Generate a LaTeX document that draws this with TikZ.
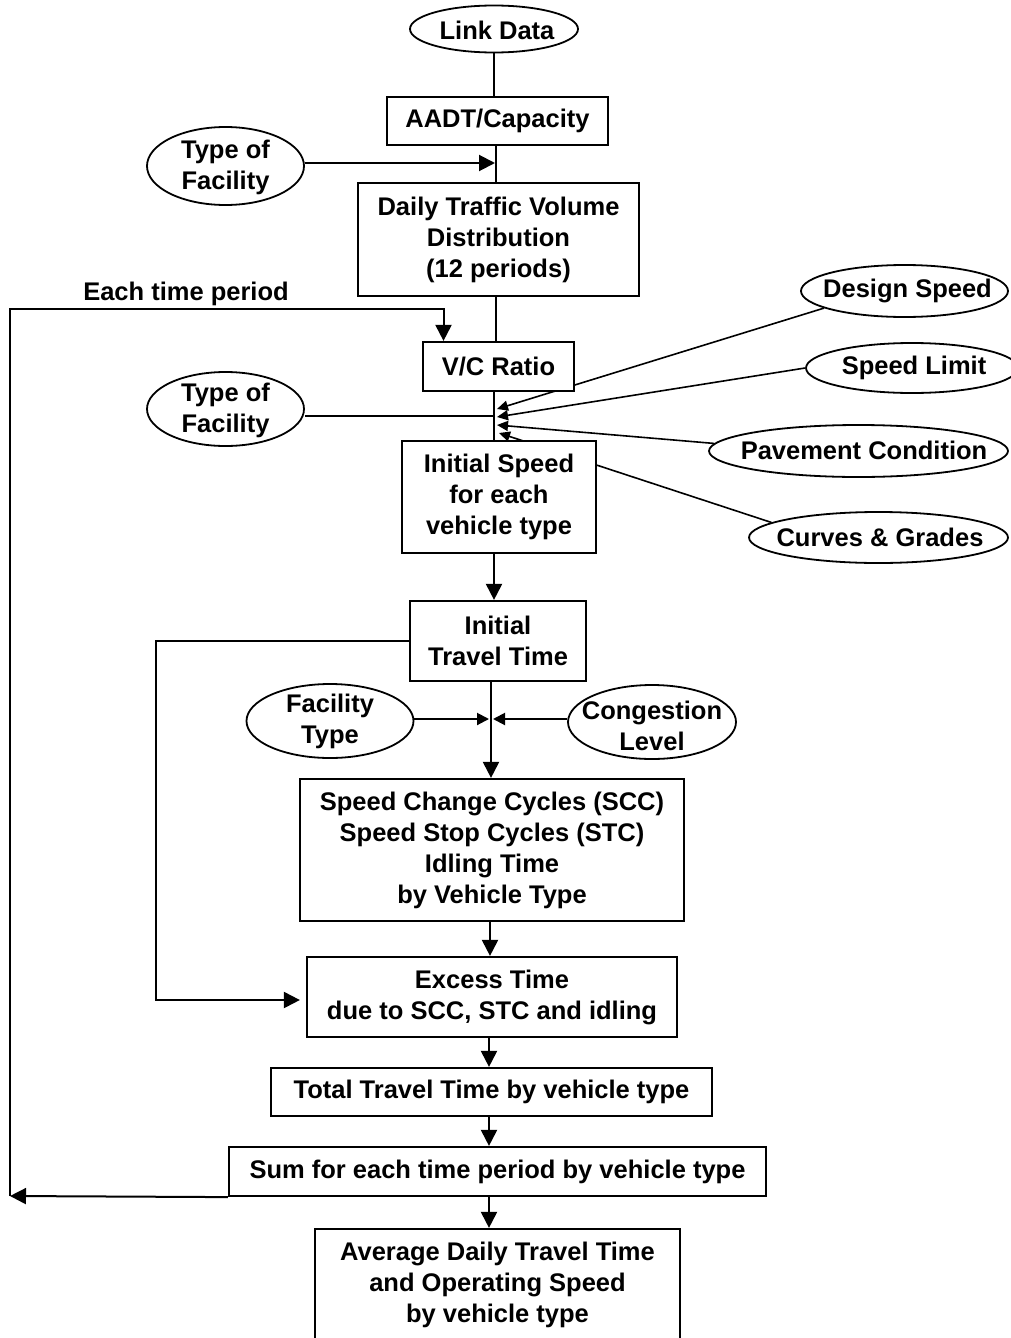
\documentclass[tikz,border=0pt]{standalone}
\usepackage{fontspec}
\setmainfont{Liberation Sans}
\usetikzlibrary{shapes.geometric,arrows.meta,calc}
\pgfdeclarelayer{bg}
\pgfsetlayers{bg,main}
\begin{document}
\begin{tikzpicture}[x=1pt,y=-1pt,
  every node/.style={font=\fontsize{25.5}{31}\selectfont\bfseries, align=center, inner sep=0pt},
  box/.style={draw, line width=2.2pt, fill=white, rectangle},
  oval/.style={draw, line width=1.8pt, fill=white, ellipse},
  lbl/.style={},
  ln/.style={line width=2pt},
  arr/.style={line width=2pt, -{Triangle[length=16pt,width=16pt]}},
  sarr/.style={line width=1.6pt, -{Triangle[length=11pt,width=10pt]}},
  marr/.style={line width=2pt, -{Triangle[length=12pt,width=12pt]}}]
\useasboundingbox (0,0) rectangle (1010,1338);

% ellipses
\node[oval, minimum width=168pt, minimum height=47pt] (link) at (494,29) {};
\node[lbl] (linkT) at (497,30) {Link Data};
\node[oval, minimum width=157pt, minimum height=78pt] (tof1) at (225.5,166) {};
\node[lbl] (tof1T) at (225.5,167) {Type of\\Facility};
\node[oval, minimum width=157pt, minimum height=74pt] (tof2) at (225.5,409) {};
\node[lbl] (tof2T) at (225.5,410) {Type of\\Facility};
\node[oval, minimum width=207pt, minimum height=52pt] (ds) at (904.5,291) {};
\node[lbl] (dsT) at (907.5,291) {Design Speed};
\node[oval, minimum width=212pt, minimum height=50pt] (sl) at (912,368) {};
\node[lbl] (slT) at (914,368) {Speed Limit};
\node[oval, minimum width=299pt, minimum height=52pt] (pc) at (858.5,451) {};
\node[lbl] (pcT) at (864,450) {Pavement Condition};
\node[oval, minimum width=259pt, minimum height=51pt] (cg) at (878.5,537.5) {};
\node[lbl] (cgT) at (880,537) {Curves \& Grades};
\node[oval, minimum width=167pt, minimum height=74pt] (ft) at (330,721) {};
\node[lbl] (ftT) at (330,721) {Facility\\Type};
\node[oval, minimum width=168pt, minimum height=74pt] (cl) at (652,722) {};
\node[lbl] (clT) at (652,726) {Congestion\\Level};

% boxes
\node[box, minimum width=221pt, minimum height=48pt] (aadt) at (497.5,121) {AADT/Capacity};
\node[box, minimum width=281pt, minimum height=113pt] (daily) at (498.5,239.5) {Daily Traffic Volume\\Distribution\\(12 periods)};
\node[box, minimum width=151pt, minimum height=49pt] (vc) at (498.5,366.5) {V/C Ratio};
\node[box, minimum width=194pt, minimum height=112pt] (isp) at (499,497) {Initial Speed\\for each\\vehicle type};
\node[box, minimum width=176pt, minimum height=80pt] (itt) at (498,641) {Initial\\Travel Time};
\node[box, minimum width=384pt, minimum height=142pt] (scc) at (492,850) {Speed Change Cycles (SCC)\\Speed Stop Cycles (STC)\\Idling Time\\by Vehicle Type};
\node[box, minimum width=370pt, minimum height=80pt] (ex) at (492,997) {Excess Time\\due to SCC, STC and idling};
\node[box, minimum width=441pt, minimum height=48pt] (tt) at (491.5,1092) {Total Travel Time by vehicle type};
\node[box, minimum width=537pt, minimum height=49pt] (sum) at (497.5,1171.5) {Sum for each time period by vehicle type};
\node[box, minimum width=365pt, minimum height=111pt] (avg) at (497.5,1284.5) {Average Daily Travel Time\\and Operating Speed\\by vehicle type};

\node[lbl] (etp) at (186,294) {Each time period};

% junction coordinates
\coordinate (j1) at (495,163);
\coordinate (j2) at (494,416);
\coordinate (tds) at (497,409);
\coordinate (tsl) at (497,417);
\coordinate (tpc) at (497,425);
\coordinate (tcg) at (499,433);
\coordinate (j3) at (489,719);
\coordinate (j4) at (493,719);
\coordinate (lp) at (10,1196);
\coordinate (lt) at (10,309);

\begin{pgfonlayer}{bg}
\draw[ln] (link.south) -- (link.south |- aadt.north);
\draw[ln] ($(aadt.south)+(-1.5,0)$) -- ($(daily.north)+(-2.5,0)$);
\draw[arr] (tof1.east |- j1) -- (j1);
\draw[ln] ($(daily.south)+(-3,0)$) -- ($(vc.north)+(-3,0)$);
\draw[ln] ($(vc.south)+(-4.5,0)$) -- ($(isp.north)+(-5,0)$);
\draw[arr] (lp) -- (lt) -| ($(vc.north)+(-55,0)$);
\draw[arr] (sum.south west) -- (lp);
\draw[ln] (tof2.east |- j2) -- (j2);
\draw[sarr] (ds.192) -- (tds);
\draw[sarr] (sl.west) -- (tsl);
\draw[sarr] (pc.177) -- (tpc);
\draw[sarr] (cg.172) -- (tcg);
\draw[arr] ($(isp.south)+(-5,0)$) -- ($(itt.north)+(-4,0)$);
\draw[arr] ($(itt.south)+(-7,0)$) -- ($(scc.north)+(-1,0)$);
\draw[marr] (ft.east |- j3) -- (j3);
\draw[marr] (cl.west |- j4) -- (j4);
\draw[arr] (itt.west) -- ++(-253,0) |- ($(ex.west)+(-6,3)$);
\draw[arr] ($(scc.south)+(-2,0)$) -- ($(ex.north)+(-2,0)$);
\draw[arr] ($(ex.south)+(-3,0)$) -- ($(tt.north)+(-2.5,0)$);
\draw[arr] ($(tt.south)+(-2.5,0)$) -- ($(sum.north)+(-8.5,0)$);
\draw[arr] ($(sum.south)+(-8.5,0)$) -- ($(avg.north)+(-8.5,0)$);
\end{pgfonlayer}
\end{tikzpicture}
\end{document}
